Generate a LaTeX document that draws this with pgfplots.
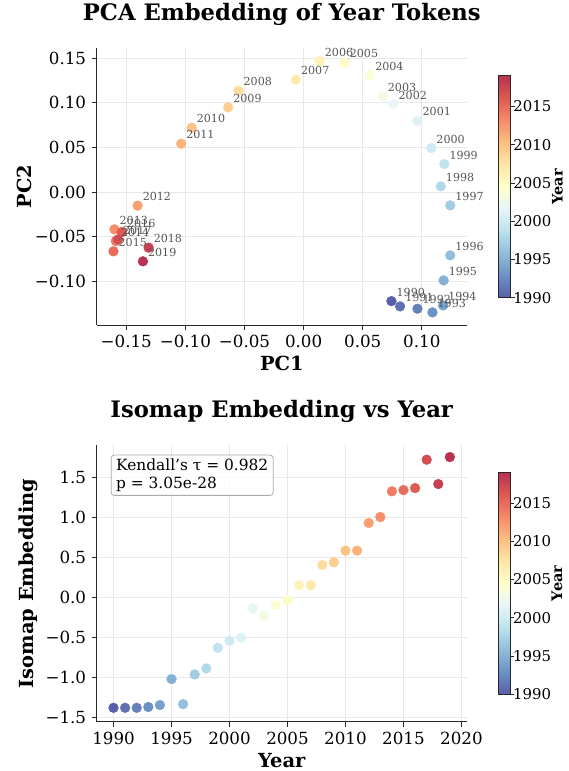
\documentclass[border=0pt]{standalone}
\usepackage{fontspec}
\setmainfont{DejaVu Serif}
\usepackage{pgfplots}
\usepackage{pgfplotstable}
\pgfplotsset{compat=1.18}

\definecolor{gridc}{RGB}{232,232,232}
\definecolor{spinec}{RGB}{40,40,40}
\definecolor{annc}{RGB}{85,85,85}
\definecolor{boxc}{RGB}{170,170,170}

\pgfplotstableread{
year pc1 pc2
1990 0.0743 -0.1220
1991 0.0816 -0.1279
1992 0.0963 -0.1305
1993 0.1090 -0.1346
1994 0.1180 -0.1268
1995 0.1184 -0.0988
1996 0.1240 -0.0708
1997 0.1240 -0.0149
1998 0.1160 0.0064
1999 0.1190 0.0313
2000 0.1080 0.0492
2001 0.0963 0.0798
2002 0.0760 0.0985
2003 0.0669 0.1070
2004 0.0562 0.1309
2005 0.0347 0.1447
2006 0.0136 0.1465
2007 -0.0065 0.1257
2008 -0.0551 0.1134
2009 -0.0638 0.0947
2010 -0.0947 0.0720
2011 -0.1036 0.0541
2012 -0.1404 -0.0152
2013 -0.1600 -0.0417
2014 -0.1588 -0.0548
2015 -0.1608 -0.0663
2016 -0.1537 -0.0447
2017 -0.1570 -0.0530
2018 -0.1311 -0.0622
2019 -0.1359 -0.0775
}\pcadata

\pgfplotstableread{
year iso
1990 -1.380
1991 -1.380
1992 -1.380
1993 -1.370
1994 -1.346
1995 -1.021
1996 -1.334
1997 -0.963
1998 -0.888
1999 -0.630
2000 -0.542
2001 -0.504
2002 -0.138
2003 -0.229
2004 -0.096
2005 -0.033
2006 0.154
2007 0.154
2008 0.408
2009 0.441
2010 0.587
2011 0.587
2012 0.933
2013 1.008
2014 1.329
2015 1.345
2016 1.370
2017 1.725
2018 1.420
2019 1.758
}\isodata

\pgfplotsset{
  colormap={rdylbu}{rgb255=(90,94,170) rgb255=(106,145,195) rgb255=(144,189,218) rgb255=(188,225,237) rgb255=(230,245,249) rgb255=(255,255,204) rgb255=(254,230,166) rgb255=(253,190,129) rgb255=(246,138,105) rgb255=(223,89,82) rgb255=(183,51,81)},
  mystyle/.style={
    scale only axis,
    axis x line*=bottom, axis y line*=left,
    axis line style={spinec, line width=0.9pt, -},
    tick align=outside, major tick length=5pt,
    tick style={spinec, line width=0.9pt},
    grid=major, grid style={gridc, line width=0.8pt},
    tick label style={font=\fontsize{16.7}{18}\selectfont},
    xticklabel style={anchor=base, inner sep=0pt, yshift=-18pt},
    yticklabel style={anchor=east, inner sep=0pt, xshift=-5.4pt},
    label style={font=\fontsize{19.4}{22}\selectfont\bfseries},
    title style={font=\fontsize{22.7}{26}\selectfont\bfseries, at={(0.5,1)}, anchor=base, yshift=21.8pt},
    xlabel style={at={(0.5,0)}, anchor=base, yshift=-46pt},
    colormap name=rdylbu,
    point meta min=1990, point meta max=2019,
    colorbar,
    colorbar style={
      at={(parent axis.east)}, anchor=west, xshift=23pt,
      scale only axis, width=12pt, height=222pt,
      ytick={1990,1995,2000,2005,2010,2015},
      yticklabels={1990,1995,2000,2005,2010,2015},
      yticklabel pos=right, ytick pos=right,
      tick align=outside, major tick length=4pt,
      tick style={spinec, line width=0.8pt},
      axis line style={spinec, line width=0.8pt},
      yticklabel style={font=\fontsize{14.9}{16}\selectfont, anchor=west, inner sep=0pt, xshift=-1.3pt},
      ylabel={Year},
      ylabel style={font=\fontsize{14.5}{16}\selectfont\bfseries, at={(1,0.5)}, anchor=base, yshift=-52pt},
    },
  },
}

\begin{document}
\begin{tikzpicture}
\useasboundingbox (0,0) rectangle (568pt,771pt);

% ---------- top: PCA ----------
\begin{axis}[mystyle,
  at={(96.7pt,446pt)}, anchor=south west,
  width=370.3pt, height=276.5pt,
  xmin=-0.1750, xmax=0.1382, ymin=-0.1487, ymax=0.1606,
  xtick={-0.15,-0.10,-0.05,0,0.05,0.10},
  xticklabels={−0.15,−0.10,−0.05,0.00,0.05,0.10},
  ytick={-0.10,-0.05,0,0.05,0.10,0.15},
  yticklabels={−0.10,−0.05,0.00,0.05,0.10,0.15},
  title={PCA Embedding of Year Tokens},
  xlabel={PC1}, ylabel={PC2},
  ylabel style={at={(0,0.5)}, anchor=base, yshift=64.7pt},
]
\addplot[scatter, only marks, mark=*, mark size=4.9pt, scatter src=explicit,
  scatter/use mapped color={draw=mapped color, fill=mapped color}]
  table[x=pc1, y=pc2, meta=year] {\pcadata};
\addplot[draw=none, mark=none, point meta=explicit symbolic, nodes near coords,
  nodes near coords style={anchor=base west, xshift=5pt, yshift=5pt, inner sep=0pt,
    font=\fontsize{11.1}{12}\selectfont, text=annc}]
  table[x=pc1, y=pc2, meta=year] {\pcadata};
\end{axis}

% ---------- bottom: Isomap ----------
\begin{axis}[mystyle,
  at={(96.7pt,49.3pt)}, anchor=south west,
  width=370pt, height=276.7pt,
  xmin=1988.55, xmax=2020.45, ymin=-1.554, ymax=1.909,
  xtick={1990,1995,2000,2005,2010,2015,2020},
  xticklabels={1990,1995,2000,2005,2010,2015,2020},
  ytick={-1.5,-1,-0.5,0,0.5,1,1.5},
  yticklabels={−1.5,−1.0,−0.5,0.0,0.5,1.0,1.5},
  title={Isomap Embedding vs Year},
  xlabel={Year}, ylabel={Isomap Embedding},
  ylabel style={at={(0,0.5)}, anchor=base, yshift=62.7pt},
]
\addplot[scatter, only marks, mark=*, mark size=4.9pt, scatter src=explicit,
  scatter/use mapped color={draw=mapped color, fill=mapped color}]
  table[x=year, y=iso, meta=year] {\isodata};
\node[draw=boxc, line width=0.8pt, rounded corners=3pt, fill=white, fill opacity=0.8, text opacity=1,
  align=left, anchor=north west, inner xsep=5pt, inner ysep=4pt,
  font=\fontsize{15.4}{17.4}\selectfont] at (rel axis cs:0.038,0.965)
  {Kendall's τ = 0.982\\p = 3.05e-28};
\end{axis}
\end{tikzpicture}
\end{document}
